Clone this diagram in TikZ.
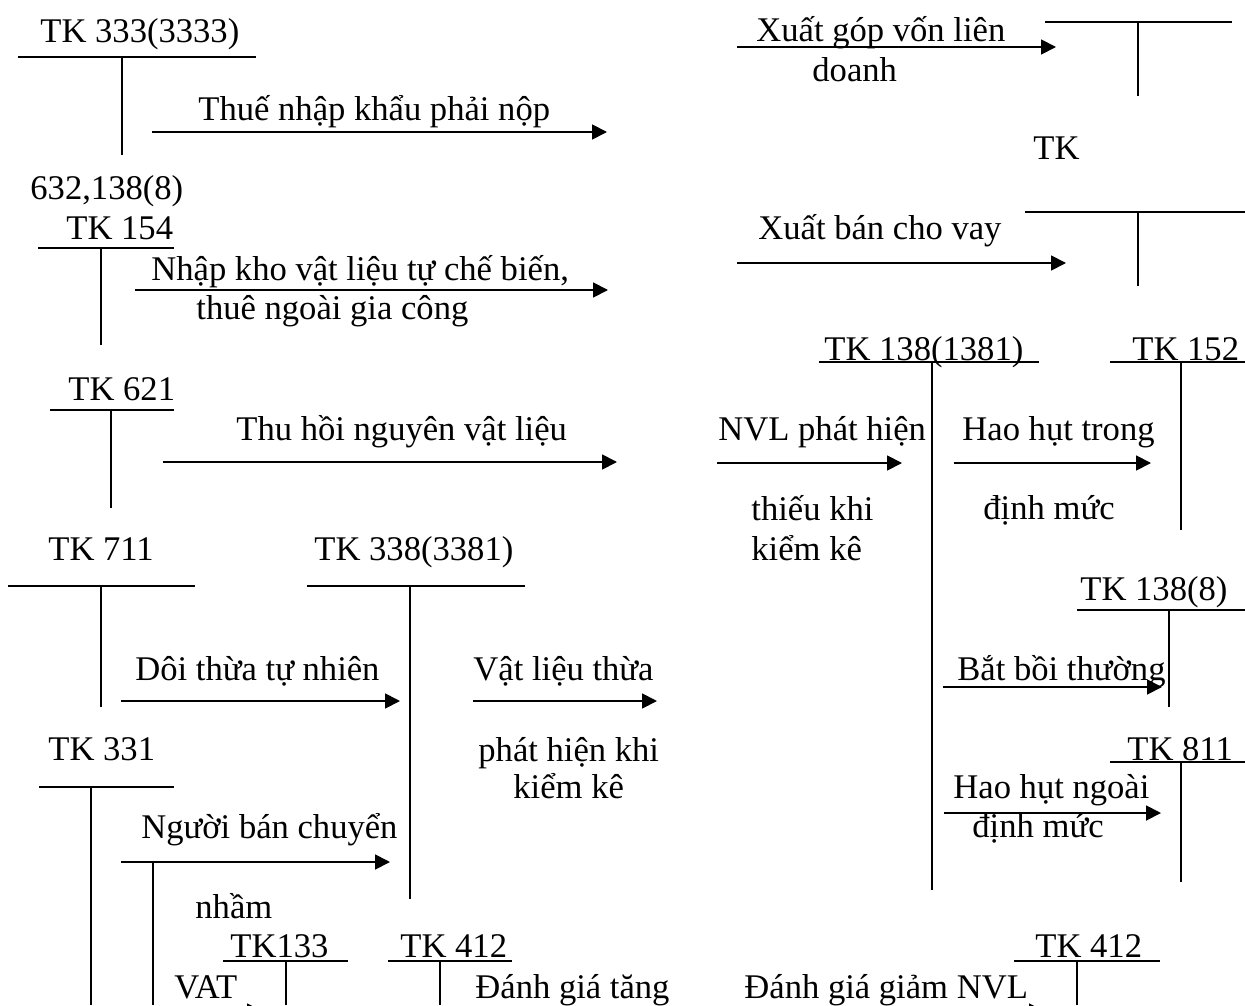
\documentclass[tikz,border=0pt]{standalone}
\usepackage{fontspec}
\setmainfont{Liberation Serif}
\usetikzlibrary{arrows.meta}

\tikzset{
	lbl/.style={inner sep=0pt, anchor=base west, font=\fontsize{17.3}{20}\selectfont},
	acct/.style={line width=0.9pt},
	flow/.style={line width=0.9pt, -{Triangle[length=7.5pt,width=7.5pt]}}
}

\begin{document}
\begin{tikzpicture}[x=0.5pt, y=-0.5pt]
		\useasboundingbox (0,0) rectangle (1245,1005);
		\clip (0,0) rectangle (1245,1005);

		% chu T cua cac tai khoan
		\draw[acct] (18,57) -- (256,57);
		\draw[acct] (122,57) -- (122,155);
		\draw[acct] (38,248) -- (174,248);
		\draw[acct] (101,248) -- (101,345);
		\draw[acct] (50,410) -- (174,410);
		\draw[acct] (111,410) -- (111,508);
		\draw[acct] (8,586) -- (195,586);
		\draw[acct] (101,586) -- (101,707);
		\draw[acct] (307,586) -- (525,586);
		\draw[acct] (410,586) -- (410,899);
		\draw[acct] (39,787) -- (174,787);
		\draw[acct] (91,787) -- (91,1005);
		\draw[acct] (153,862) -- (153,1005);
		\draw[acct] (223,961) -- (348,961);
		\draw[acct] (286,961) -- (286,1005);
		\draw[acct] (388,961) -- (512,961);
		\draw[acct] (440,961) -- (440,1005);
		\draw[acct] (1014,961) -- (1160,961);
		\draw[acct] (1077,961) -- (1077,1005);

		\draw[acct] (1045,22) -- (1232,22);
		\draw[acct] (1138,22) -- (1138,96);
		\draw[acct] (1025,212) -- (1245,212);
		\draw[acct] (1138,212) -- (1138,286);
		\draw[acct] (819,362) -- (1039,362);
		\draw[acct] (932,362) -- (932,890);
		\draw[acct] (1110,362) -- (1245,362);
		\draw[acct] (1181,362) -- (1181,530);
		\draw[acct] (1077,610) -- (1245,610);
		\draw[acct] (1169,610) -- (1169,707);
		\draw[acct] (1110,762) -- (1245,762);
		\draw[acct] (1181,762) -- (1181,882);

		% ten tai khoan
		\node[lbl] (tk333) at (40,43) {TK 333(3333)};
		\node[lbl] (tk632) at (30,200) {632,138(8)};
		\node[lbl] (tk154) at (66,240) {TK 154};
		\node[lbl] (tk621) at (68,400) {TK 621};
		\node[lbl] (tk711) at (48,560) {TK 711};
		\node[lbl] (tk338) at (314,560) {TK 338(3381)};
		\node[lbl] (tk331) at (48,760) {TK 331};
		\node[lbl] (tk133) at (230,957) {TK133};
		\node[lbl] (tk412a) at (400,957) {TK 412};
		\node[lbl] (tk412b) at (1035,957) {TK 412};
		\node[lbl] (tkx) at (1033,160) {TK};
		\node[lbl] (tk1381) at (824,360) {TK 138(1381)};
		\node[lbl] (tk152) at (1132,360) {TK 152};
		\node[lbl] (tk1388) at (1080,600) {TK 138(8)};
		\node[lbl] (tk811) at (1127,760) {TK 811};

		% dien giai nghiep vu
		\node[lbl] (thue) at (198,121) {Thuế nhập khẩu phải nộp};
		\node[lbl] (nhap1) at (151,280) {Nhập kho vật liệu tự chế biến,};
		\node[lbl] (nhap2) at (196,319) {thuê ngoài gia công};
		\node[lbl] (thuhoi) at (236,440) {Thu hồi nguyên vật liệu};
		\node[lbl] (doi) at (135,680) {Dôi thừa tự nhiên};
		\node[lbl] (thua1) at (473,680) {Vật liệu thừa};
		\node[lbl] (thua2) at (478,761) {phát hiện khi};
		\node[lbl] (thua3) at (513,798) {kiểm kê};
		\node[lbl] (nguoiban) at (141,838) {Người bán chuyển};
		\node[lbl] (nham) at (195,918) {nhầm};
		\node[lbl] (vat) at (174,998) {VAT};
		\node[lbl] (tang) at (475,998) {Đánh giá tăng};
		\node[lbl] (giam) at (744,998) {Đánh giá giảm NVL};
		\node[lbl] (gop1) at (756,42) {Xuất góp vốn liên};
		\node[lbl] (gop2) at (812,82) {doanh};
		\node[lbl] (ban) at (758,240) {Xuất bán cho vay};
		\node[lbl] (thieu1) at (718,440) {NVL phát hiện};
		\node[lbl] (thieu2) at (751,520) {thiếu khi};
		\node[lbl] (thieu3) at (751,560) {kiểm kê};
		\node[lbl] (trong1) at (962,440) {Hao hụt trong};
		\node[lbl] (trong2) at (983,519) {định mức};
		\node[lbl] (boi) at (957,680) {Bắt bồi thường};
		\node[lbl] (ngoai1) at (953,798) {Hao hụt ngoài};
		\node[lbl] (ngoai2) at (972,837) {định mức};

		% dau va cuoi cac mui ten
		\coordinate (thue-a) at (152,132);   \coordinate (thue-b) at (607,132);
		\coordinate (nhap-a) at (135,290);   \coordinate (nhap-b) at (608,290);
		\coordinate (thuhoi-a) at (163,462); \coordinate (thuhoi-b) at (617,462);
		\coordinate (doi-a) at (121,701);    \coordinate (doi-b) at (400,701);
		\coordinate (thua-a) at (473,701);   \coordinate (thua-b) at (657,701);
		\coordinate (nham-a) at (121,862);   \coordinate (nham-b) at (390,862);
		\coordinate (vat-a) at (170,1011);   \coordinate (vat-b) at (262,1011);
		\coordinate (giam-a) at (900,1011);  \coordinate (giam-b) at (1044,1011);
		\coordinate (gop-a) at (737,47);     \coordinate (gop-b) at (1056,47);
		\coordinate (ban-a) at (737,263);    \coordinate (ban-b) at (1066,263);
		\coordinate (thieu-a) at (717,463);  \coordinate (thieu-b) at (902,463);
		\coordinate (trong-a) at (954,463);  \coordinate (trong-b) at (1151,463);
		\coordinate (boi-a) at (943,687);    \coordinate (boi-b) at (1162,687);
		\coordinate (ngoai-a) at (944,813);  \coordinate (ngoai-b) at (1161,813);

		\draw[flow] (thue-a) -- (thue-b);
		\draw[flow] (nhap-a) -- (nhap-b);
		\draw[flow] (thuhoi-a) -- (thuhoi-b);
		\draw[flow] (doi-a) -- (doi-b);
		\draw[flow] (thua-a) -- (thua-b);
		\draw[flow] (nham-a) -- (nham-b);
		\draw[flow] (vat-a) -- (vat-b);
		\draw[flow] (giam-a) -- (giam-b);
		\draw[flow] (gop-a) -- (gop-b);
		\draw[flow] (ban-a) -- (ban-b);
		\draw[flow] (thieu-a) -- (thieu-b);
		\draw[flow] (trong-a) -- (trong-b);
		\draw[flow] (boi-a) -- (boi-b);
		\draw[flow] (ngoai-a) -- (ngoai-b);
	\end{tikzpicture}
\end{document}
